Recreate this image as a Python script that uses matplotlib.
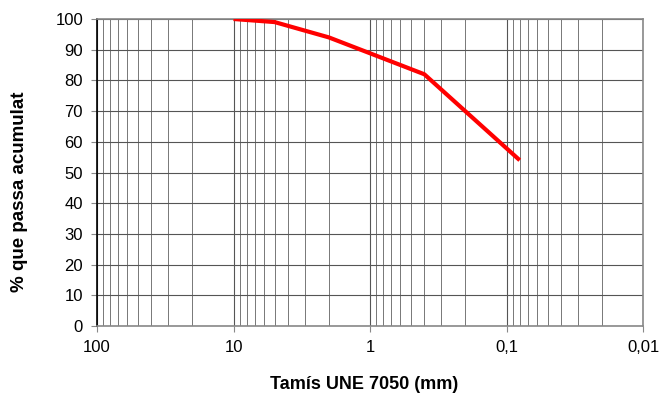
import matplotlib
matplotlib.use('Agg')
import matplotlib.pyplot as plt
from matplotlib.ticker import FixedLocator, FixedFormatter, LogLocator, NullFormatter

# Sieve sizes (mm) and cumulative passing (%)
tamis = [10, 5, 2, 0.4, 0.08]
passa = [100, 99, 94, 82, 54]

xticks = [100, 10, 1, 0.1, 0.01]
xlabels = ['100', '10', '1', '0,1', '0,01']
yticks = list(range(0, 101, 10))

plt.rcParams['font.family'] = ['Liberation Sans', 'DejaVu Sans']

fig = plt.figure(figsize=(6.6, 3.94), dpi=100)
ax = fig.add_axes([97/660, 1 - 326/394, (643 - 97)/660, (326 - 19)/394])

ax.plot(tamis, passa, color='#ff0000', linewidth=3, solid_capstyle='butt', zorder=3)

ax.set_xscale('log')
ax.set_xlim(100, 0.01)
ax.set_ylim(0, 100)

ax.xaxis.set_major_locator(FixedLocator(xticks))
ax.xaxis.set_major_formatter(FixedFormatter(xlabels))
ax.xaxis.set_minor_locator(LogLocator(base=10, subs=range(2, 10), numticks=20))
ax.xaxis.set_minor_formatter(NullFormatter())
ax.set_yticks(yticks)

ax.grid(True, which='major', color='#555555', linewidth=0.8)
ax.grid(True, which='minor', axis='x', color='#777777', linewidth=0.7)

ax.tick_params(axis='both', which='major', labelsize=12, length=4, width=0.8, color='#888888')
ax.tick_params(axis='x', which='minor', length=0)
ax.tick_params(axis='x', pad=6)
ax.tick_params(axis='y', pad=6)

for s in ['top', 'right', 'bottom']:
    ax.spines[s].set_color('#888888')
    ax.spines[s].set_linewidth(1.2)
ax.spines['left'].set_color('black')
ax.spines['left'].set_linewidth(1.2)

ax.set_xlabel('Tamís UNE 7050 (mm)', fontsize=13, fontweight='bold', labelpad=15)
ax.xaxis.set_label_coords(0.49, -0.19)
ax.xaxis.label.set_va('center')
ax.set_ylabel('% que passa acumulat', fontsize=13.5, fontweight='bold')
ax.yaxis.set_label_coords(-77/546, 0.436)
ax.yaxis.label.set_va('center')

fig.savefig('out.png', dpi=100)
